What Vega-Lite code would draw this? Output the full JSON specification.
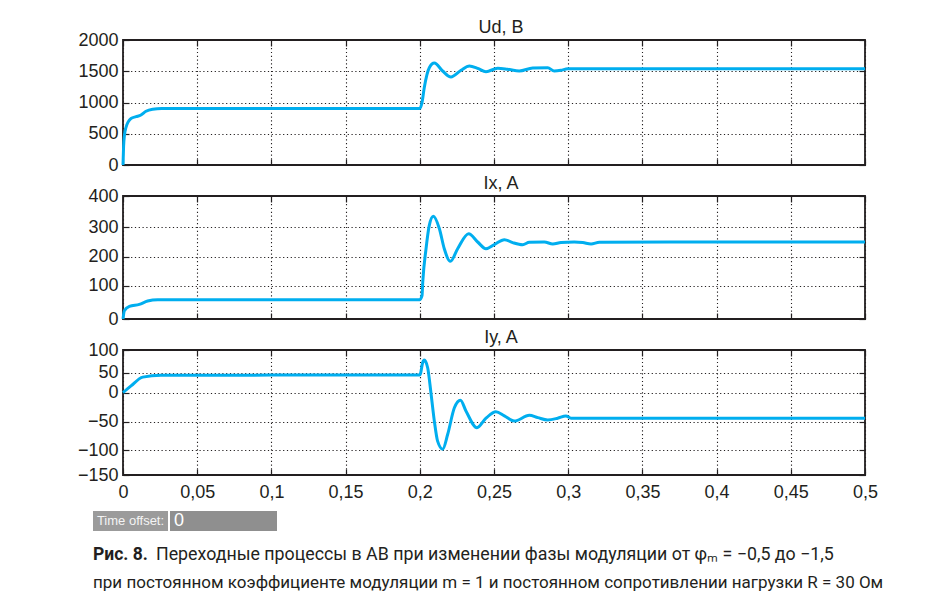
{
  "$schema": "https://vega.github.io/schema/vega-lite/v6.json",
  "padding": {"left": 72, "top": 18, "right": 0, "bottom": 0},
  "background": "white",
  "config": {
    "locale": {"number": {"decimal": ",", "thousands": "\u00a0", "grouping": [3], "currency": ["", ""]}},
    "view": {"stroke": "#231f20", "strokeWidth": 1.8},
    "axis": {
      "domain": false,
      "labelFont": "Liberation Sans",
      "labelFontSize": 18,
      "labelColor": "#231f20",
      "labelFlush": false,
      "labelPadding": 11,
      "tickColor": "#231f20",
      "tickSize": -6,
      "tickWidth": 1.2,
      "gridColor": "#231f20",
      "gridDash": [1.2, 2.6],
      "gridWidth": 1.1,
      "gridOpacity": 1
    },
    "title": {
      "font": "Liberation Sans",
      "fontSize": 18,
      "fontWeight": "normal",
      "color": "#231f20",
      "offset": -6,
      "frame": "group",
      "anchor": "middle",
      "dx": 7
    }
  },
  "datasets": {
    "ud": [
      {"t": 0, "v": 0}, {"t": 0.0004, "v": 300}, {"t": 0.001, "v": 480}, {"t": 0.002, "v": 600},
      {"t": 0.0035, "v": 690}, {"t": 0.0054, "v": 745}, {"t": 0.0088, "v": 773}, {"t": 0.0121, "v": 800},
      {"t": 0.0155, "v": 860}, {"t": 0.02, "v": 893}, {"t": 0.026, "v": 905}, {"t": 0.1, "v": 905},
      {"t": 0.2, "v": 905}, {"t": 0.2015, "v": 1000}, {"t": 0.203, "v": 1237}, {"t": 0.2064, "v": 1557},
      {"t": 0.2098, "v": 1632}, {"t": 0.2154, "v": 1504}, {"t": 0.221, "v": 1408}, {"t": 0.2278, "v": 1515},
      {"t": 0.2334, "v": 1584}, {"t": 0.239, "v": 1547}, {"t": 0.2446, "v": 1493}, {"t": 0.2525, "v": 1547},
      {"t": 0.2592, "v": 1531}, {"t": 0.267, "v": 1504}, {"t": 0.2761, "v": 1552}, {"t": 0.2862, "v": 1557},
      {"t": 0.2906, "v": 1504}, {"t": 0.2951, "v": 1515}, {"t": 0.2997, "v": 1540}, {"t": 0.305, "v": 1540},
      {"t": 0.4, "v": 1540}, {"t": 0.5, "v": 1540}
    ],
    "ix": [
      {"t": 0, "v": 0}, {"t": 0.0009, "v": 25}, {"t": 0.0043, "v": 38}, {"t": 0.011, "v": 44},
      {"t": 0.0166, "v": 54}, {"t": 0.0234, "v": 58}, {"t": 0.1, "v": 58}, {"t": 0.2, "v": 58},
      {"t": 0.2015, "v": 70}, {"t": 0.202, "v": 113}, {"t": 0.2042, "v": 227}, {"t": 0.2064, "v": 306},
      {"t": 0.2091, "v": 335}, {"t": 0.2132, "v": 295}, {"t": 0.2165, "v": 227}, {"t": 0.2206, "v": 184},
      {"t": 0.2255, "v": 227}, {"t": 0.2329, "v": 278}, {"t": 0.239, "v": 250}, {"t": 0.2446, "v": 227},
      {"t": 0.2502, "v": 241}, {"t": 0.257, "v": 258}, {"t": 0.2626, "v": 248}, {"t": 0.2693, "v": 241},
      {"t": 0.2738, "v": 249}, {"t": 0.2839, "v": 250}, {"t": 0.2896, "v": 243}, {"t": 0.2951, "v": 248},
      {"t": 0.3041, "v": 250}, {"t": 0.3098, "v": 248}, {"t": 0.3154, "v": 243}, {"t": 0.321, "v": 249},
      {"t": 0.4, "v": 250}, {"t": 0.5, "v": 250}
    ],
    "iy": [
      {"t": 0, "v": 0}, {"t": 0.0054, "v": 17}, {"t": 0.0133, "v": 39}, {"t": 0.0256, "v": 43.5},
      {"t": 0.1, "v": 44}, {"t": 0.2, "v": 44}, {"t": 0.2005, "v": 48}, {"t": 0.2019, "v": 72},
      {"t": 0.203, "v": 77.7}, {"t": 0.2053, "v": 61}, {"t": 0.2075, "v": 0}, {"t": 0.2098, "v": -49},
      {"t": 0.212, "v": -84}, {"t": 0.2154, "v": -98}, {"t": 0.2188, "v": -72}, {"t": 0.2233, "v": -26},
      {"t": 0.2274, "v": -13}, {"t": 0.2311, "v": -31.5}, {"t": 0.2385, "v": -60.5}, {"t": 0.2446, "v": -44},
      {"t": 0.2513, "v": -33}, {"t": 0.257, "v": -40}, {"t": 0.2637, "v": -49}, {"t": 0.2738, "v": -39},
      {"t": 0.2795, "v": -43}, {"t": 0.2862, "v": -47}, {"t": 0.2929, "v": -44}, {"t": 0.2985, "v": -40},
      {"t": 0.3019, "v": -44}, {"t": 0.4, "v": -44}, {"t": 0.5, "v": -44}
    ]
  },
  "spacing": 9,
  "vconcat": [
    {
      "bounds": "flush",
      "spacing": 29,
      "hconcat": [
        {
          "width": 1,
          "height": 1,
          "view": {"stroke": null},
          "data": {"values": [{}]},
          "mark": {"type": "point", "opacity": 0}
        },
        {
          "bounds": "flush",
          "spacing": 31,
          "vconcat": [
            {
              "width": 742,
              "height": 125,
              "title": {"text": "Ud, B"},
              "data": {"name": "ud"},
              "layer": [
                {
                  "mark": {"type": "line", "strokeOpacity": 0},
                  "encoding": {
                    "x": {"field": "t", "type": "quantitative", "scale": {"domain": [0, 0.5], "nice": false},
                          "axis": {"orient": "bottom", "title": null, "labels": false, "grid": true,
                                   "values": [0, 0.05, 0.1, 0.15, 0.2, 0.25, 0.3, 0.35, 0.4, 0.45, 0.5]}},
                    "y": {"field": "v", "type": "quantitative", "scale": {"domain": [0, 2000], "nice": false},
                          "axis": {"orient": "left", "title": null, "grid": true, "format": "d",
                                   "values": [0, 500, 1000, 1500, 2000], "minExtent": 50, "maxExtent": 50}}
                  }
                },
                {
                  "mark": {"type": "line", "color": "#00aeef", "strokeWidth": 3, "interpolate": "monotone"},
                  "encoding": {
                    "x": {"field": "t", "type": "quantitative",
                          "axis": {"orient": "top", "title": null, "labels": false, "grid": false,
                                   "values": [0, 0.05, 0.1, 0.15, 0.2, 0.25, 0.3, 0.35, 0.4, 0.45, 0.5]}},
                    "y": {"field": "v", "type": "quantitative",
                          "axis": {"orient": "right", "title": null, "labels": false, "grid": false,
                                   "values": [0, 500, 1000, 1500, 2000], "minExtent": 0}}
                  }
                }
              ]
            },
            {
              "width": 742,
              "height": 123,
              "title": {"text": "Ix, A"},
              "data": {"name": "ix"},
              "layer": [
                {
                  "mark": {"type": "line", "strokeOpacity": 0},
                  "encoding": {
                    "x": {"field": "t", "type": "quantitative", "scale": {"domain": [0, 0.5], "nice": false},
                          "axis": {"orient": "bottom", "title": null, "labels": false, "grid": true,
                                   "values": [0, 0.05, 0.1, 0.15, 0.2, 0.25, 0.3, 0.35, 0.4, 0.45, 0.5]}},
                    "y": {"field": "v", "type": "quantitative",
                          "scale": {"domain": [0, 100, 200, 300, 400], "range": [123, 89.7, 60.7, 31.3, 0], "nice": false, "zero": false},
                          "axis": {"orient": "left", "title": null, "grid": true, "format": "d",
                                   "values": [0, 100, 200, 300, 400], "minExtent": 50, "maxExtent": 50}}
                  }
                },
                {
                  "mark": {"type": "line", "color": "#00aeef", "strokeWidth": 3, "interpolate": "monotone"},
                  "encoding": {
                    "x": {"field": "t", "type": "quantitative",
                          "axis": {"orient": "top", "title": null, "labels": false, "grid": false,
                                   "values": [0, 0.05, 0.1, 0.15, 0.2, 0.25, 0.3, 0.35, 0.4, 0.45, 0.5]}},
                    "y": {"field": "v", "type": "quantitative",
                          "axis": {"orient": "right", "title": null, "labels": false, "grid": false,
                                   "values": [0, 100, 200, 300, 400], "minExtent": 0}}
                  }
                }
              ]
            },
            {
              "width": 742,
              "height": 125,
              "title": {"text": "Iy, A"},
              "data": {"name": "iy"},
              "layer": [
                {
                  "mark": {"type": "line", "strokeOpacity": 0},
                  "encoding": {
                    "x": {"field": "t", "type": "quantitative", "scale": {"domain": [0, 0.5], "nice": false},
                          "axis": {"orient": "bottom", "title": null, "labels": true, "grid": true, "format": "~g",
                                   "labelPadding": 14,
                                   "values": [0, 0.05, 0.1, 0.15, 0.2, 0.25, 0.3, 0.35, 0.4, 0.45, 0.5]}},
                    "y": {"field": "v", "type": "quantitative",
                          "scale": {"domain": [-150, -100, -50, 0, 50, 100], "range": [125, 100.3, 71.7, 42.7, 22.7, 0], "nice": false, "zero": false},
                          "axis": {"orient": "left", "title": null, "grid": true, "format": "d",
                                   "values": [-150, -100, -50, 0, 50, 100], "minExtent": 50, "maxExtent": 50}}
                  }
                },
                {
                  "mark": {"type": "line", "color": "#00aeef", "strokeWidth": 3, "interpolate": "monotone"},
                  "encoding": {
                    "x": {"field": "t", "type": "quantitative",
                          "axis": {"orient": "top", "title": null, "labels": false, "grid": false,
                                   "values": [0, 0.05, 0.1, 0.15, 0.2, 0.25, 0.3, 0.35, 0.4, 0.45, 0.5]}},
                    "y": {"field": "v", "type": "quantitative",
                          "axis": {"orient": "right", "title": null, "labels": false, "grid": false,
                                   "values": [-150, -100, -50, 0, 50, 100], "minExtent": 0}}
                  }
                }
              ]
            }
          ]
        }
      ]
    },
    {
      "bounds": "flush",
      "spacing": 2,
      "hconcat": [
        {
          "width": 75,
          "height": 20,
          "view": {"fill": "#9b9b9b", "stroke": null},
          "data": {"values": [{"label": "Time offset:"}]},
          "title": {
            "text": "Рис. 8.",
            "subtitle": "при постоянном коэффициенте модуляции m = 1 и постоянном сопротивлении нагрузки R = 30 Ом",
            "orient": "bottom",
            "anchor": "start",
            "frame": "group",
            "dx": 0,
            "offset": 15,
            "font": "Roboto",
            "fontSize": 17.5,
            "fontWeight": "bold",
            "color": "#231f20",
            "subtitleFont": "Roboto",
            "subtitleFontSize": 17,
            "subtitleFontWeight": "normal",
            "subtitleColor": "#231f20",
            "subtitlePadding": 11
          },
          "mark": {"type": "text", "font": "Liberation Sans", "fontSize": 13, "color": "#f4f4f4"},
          "encoding": {
            "text": {"field": "label"}
          }
        },
        {
          "width": 107,
          "height": 20,
          "view": {"fill": "#8f8f8f", "stroke": null},
          "data": {"values": [{"offset": 0}]},
          "title": {
            "text": "Переходные процессы в АВ при изменении фазы модуляции от φₘ = −0,5 до −1,5",
            "orient": "bottom",
            "anchor": "start",
            "frame": "group",
            "dx": -14,
            "offset": 15,
            "font": "Roboto",
            "fontSize": 17.8,
            "fontWeight": "normal",
            "color": "#231f20"
          },
          "mark": {"type": "text", "align": "left", "dx": 4, "font": "Liberation Sans", "fontSize": 18, "color": "#ffffff"},
          "encoding": {
            "text": {"field": "offset", "type": "quantitative"},
            "x": {"field": "offset", "type": "quantitative", "scale": {"domain": [0, 1]}, "axis": null}
          }
        }
      ]
    }
  ]
}
